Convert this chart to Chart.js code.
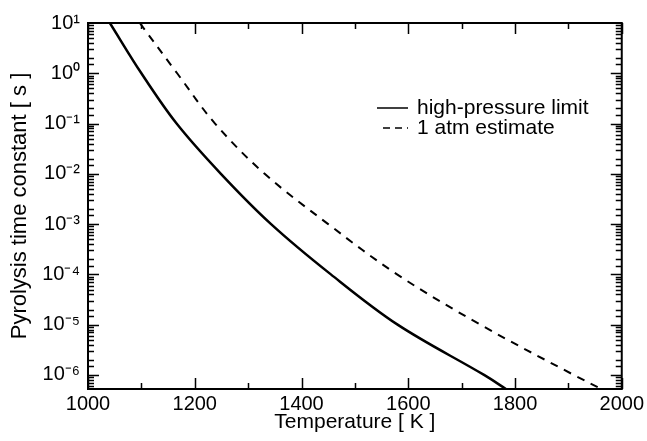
<!DOCTYPE html>
<html>
<head>
<meta charset="utf-8">
<title>Pyrolysis time constant</title>
<script src="https://cdn.jsdelivr.net/npm/chart.js@4.4.0/dist/chart.umd.min.js"></script>
<style>
  html, body { margin: 0; padding: 0; background: #fff; }
  #wrap { width: 647px; height: 441px; }
</style>
</head>
<body>
<div id="wrap"><canvas id="chart" width="647" height="441"></canvas></div>
<script>
// Pyrolysis time constant vs temperature
const highPressureT   = [1041, 1100, 1166, 1249, 1343, 1455, 1580, 1742, 1783];
const highPressureTau = [10, 1, 0.1, 0.01, 0.001, 1e-4, 1e-5, 1e-6, 5.25e-7];

const oneAtmT   = [1097, 1167, 1238, 1331, 1450, 1579, 1735, 1910, 1962];
const oneAtmTau = [10, 1, 0.1, 0.01, 1e-3, 1e-4, 1e-5, 1e-6, 5.25e-7];

const seriesNames = ['high-pressure limit', '1 atm estimate'];
const xTickLabels = [1000, 1200, 1400, 1600, 1800, 2000];
const yTickExponents = [1, 0, -1, -2, -3, -4, -5, -6];
const xRange = [1000, 2000];
const yRange = [5.25e-7, 10];

const FONT = 'Arial, "Liberation Sans", Helvetica, sans-serif';
const SUP = { '-': '\u207B', '0': '\u2070', '1': '\u00B9', '2': '\u00B2', '3': '\u00B3',
              '4': '\u2074', '5': '\u2075', '6': '\u2076', '7': '\u2077', '8': '\u2078', '9': '\u2079' };

function toPoints(xs, ys) {
    return xs.map((x, i) => ({ x: x, y: ys[i] }));
}

function powerLabel(value) {
    const e = Math.log10(value);
    const r = Math.round(e);
    if (Math.abs(e - r) > 1e-6 || !yTickExponents.includes(r)) return '';
    return '10' + String(r).split('').map(c => SUP[c]).join('');
}

// frame, inward ticks and the legend box inside the plot
const framePlugin = {
    id: 'frame',
    afterDraw(chart) {
        const { ctx, chartArea: a, scales: { x, y } } = chart;
        ctx.save();
        ctx.strokeStyle = '#000';
        ctx.lineWidth = 2;
        ctx.strokeRect(a.left, a.top, a.right - a.left, a.bottom - a.top);

        ctx.lineWidth = 1.5;
        ctx.beginPath();
        x.ticks.forEach(t => {
            const px = Math.round(x.getPixelForValue(t.value)) + 0.5;
            const len = xTickLabels.includes(t.value) ? 11 : 6;
            ctx.moveTo(px, a.bottom); ctx.lineTo(px, a.bottom - len);
            ctx.moveTo(px, a.top); ctx.lineTo(px, a.top + len);
        });
        y.ticks.forEach(t => {
            const py = Math.round(y.getPixelForValue(t.value)) + 0.5;
            if (py < a.top + 1 || py > a.bottom - 1) return;
            const len = powerLabel(t.value) ? 11 : 6;
            ctx.moveTo(a.left, py); ctx.lineTo(a.left + len, py);
            ctx.moveTo(a.right, py); ctx.lineTo(a.right - len, py);
        });
        ctx.stroke();

        // legend
        const lx = a.left + 289, ty = a.top + 85;
        ctx.font = '21px ' + FONT;
        ctx.fillStyle = '#000';
        ctx.textBaseline = 'middle';
        ctx.lineWidth = 1.5;
        ctx.beginPath();
        ctx.moveTo(lx, ty); ctx.lineTo(lx + 31, ty);
        ctx.stroke();
        ctx.fillText(seriesNames[0], lx + 40, ty);
        ctx.setLineDash([7, 5]);
        ctx.beginPath();
        ctx.moveTo(lx + 6, ty + 20); ctx.lineTo(lx + 31, ty + 20);
        ctx.stroke();
        ctx.setLineDash([]);
        ctx.fillText(seriesNames[1], lx + 40, ty + 20);
        ctx.restore();
    }
};

Chart.defaults.font.family = FONT;
Chart.defaults.color = '#000';

new Chart(document.getElementById('chart'), {
    type: 'scatter',
    data: {
        datasets: [
            {
                label: seriesNames[0],
                data: toPoints(highPressureT, highPressureTau),
                showLine: true,
                borderColor: '#000',
                borderWidth: 2.5,
                pointRadius: 0,
                tension: 0.35
            },
            {
                label: seriesNames[1],
                data: toPoints(oneAtmT, oneAtmTau),
                showLine: true,
                borderColor: '#000',
                borderWidth: 2,
                borderDash: [8, 7],
                pointRadius: 0,
                tension: 0.35
            }
        ]
    },
    options: {
        responsive: false,
        animation: false,
        layout: { padding: { top: 23, right: 24, left: 0, bottom: 0 } },
        plugins: {
            legend: { display: false },
            tooltip: { enabled: false }
        },
        scales: {
            x: {
                type: 'linear',
                min: xRange[0],
                max: xRange[1],
                afterFit: s => { s.height = 52; },
                grid: { display: false, drawTicks: false },
                border: { display: false },
                ticks: {
                    stepSize: 100,
                    autoSkip: false,
                    maxRotation: 0,
                    padding: 3,
                    font: { size: 20 },
                    callback: v => xTickLabels.includes(v) ? String(v) : ''
                },
                title: {
                    display: true,
                    text: 'Temperature [ K ]',
                    font: { size: 21 },
                    padding: { top: 0, bottom: 6 }
                }
            },
            y: {
                type: 'logarithmic',
                min: yRange[0],
                max: yRange[1],
                afterFit: s => { s.width = 88; },
                grid: { display: false, drawTicks: false },
                border: { display: false },
                ticks: {
                    autoSkip: false,
                    padding: 8,
                    font: { size: 20 },
                    callback: v => powerLabel(v)
                },
                title: {
                    display: true,
                    text: 'Pyrolysis time constant [ s ]',
                    font: { size: 22 },
                    padding: { top: 7, bottom: 0 }
                }
            }
        }
    },
    plugins: [framePlugin]
});
</script>
</body>
</html>
